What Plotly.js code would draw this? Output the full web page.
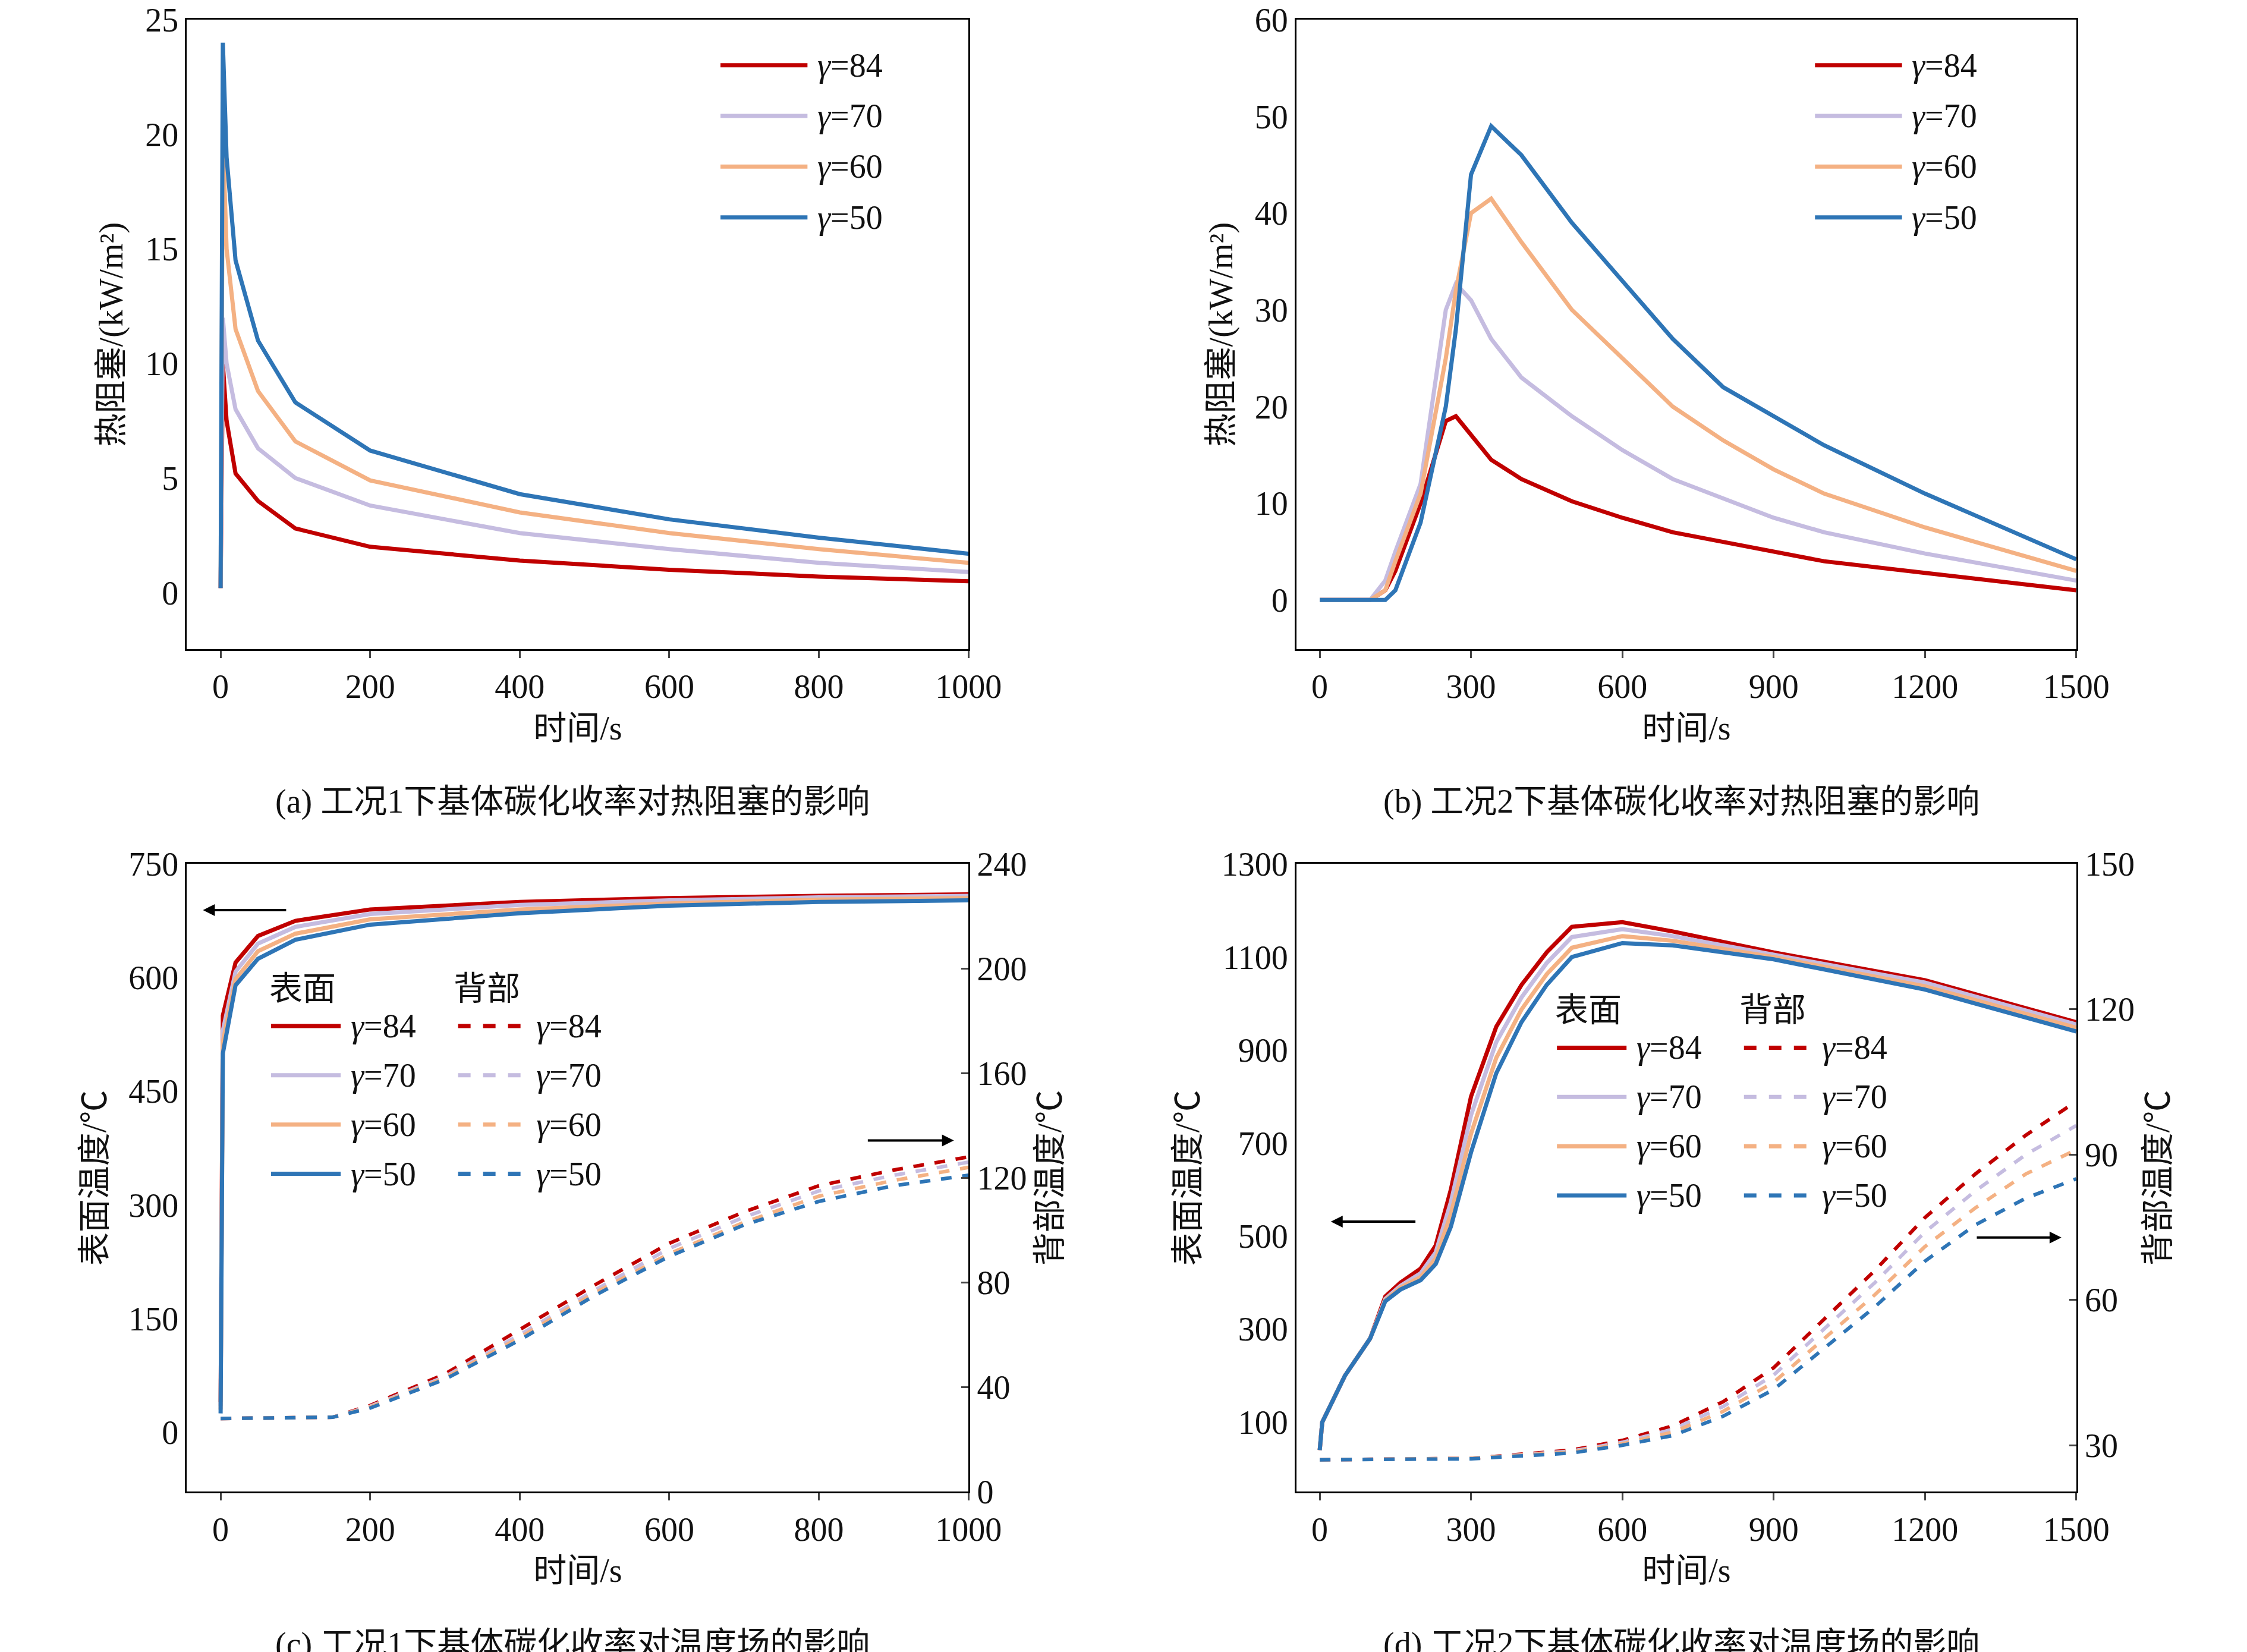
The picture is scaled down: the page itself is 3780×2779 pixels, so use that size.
<!DOCTYPE html>
<html>
<head>
<meta charset="utf-8">
<script src="https://cdn.plot.ly/plotly-3.0.1.min.js"></script>
<style>body{margin:0;background:#fff}#chart{width:3780px;height:2779px}</style>
</head>
<body>
<div id="chart"></div>
<script>
// 系列名称与颜色
const gammas = ["84", "70", "60", "50"];
const colors = ["#c00000", "#c5bce0", "#f4b183", "#2e75b6"];

// (a) 工况1 热阻塞
const tA = [0, 3, 8, 20, 50, 100, 200, 400, 600, 800, 1000];
const qA = [
  [0.2, 10, 7.5, 5.2, 4.0, 2.8, 2.0, 1.4, 1.0, 0.7, 0.5],
  [0.2, 12, 10, 8.0, 6.3, 5.0, 3.8, 2.6, 1.9, 1.3, 0.9],
  [0.2, 20, 15, 11.5, 8.8, 6.6, 4.9, 3.5, 2.6, 1.9, 1.3],
  [0.2, 24, 19, 14.5, 11, 8.3, 6.2, 4.3, 3.2, 2.4, 1.7]
];

// (b) 工况2 热阻塞
const tB = [0, 100, 130, 150, 200, 250, 270, 300, 340, 400, 500, 600, 700, 800, 900, 1000, 1200, 1500];
const qB = [
  [0, 0, 1, 3, 10, 18.5, 19, 17, 14.5, 12.5, 10.2, 8.5, 7, 6, 5, 4, 2.8, 1],
  [0, 0, 2, 5, 12, 30, 32.7, 31, 27, 23, 19, 15.5, 12.5, 10.5, 8.5, 7, 4.8, 2],
  [0, 0, 1, 4, 11, 25, 32, 40, 41.5, 37, 30, 25, 20, 16.5, 13.5, 11, 7.5, 3],
  [0, 0, 0, 1, 8, 20, 28, 44, 49, 46, 39, 33, 27, 22, 19, 16, 11, 4.2]
];

// (c) 工况1 温度场
const tC = [0, 3, 20, 50, 100, 200, 400, 600, 800, 1000];
const surfC = [
  [40, 550, 620, 655, 675, 690, 700, 705, 708, 710],
  [35, 530, 608, 645, 667, 684, 696, 702, 706, 708],
  [30, 515, 598, 635, 658, 677, 690, 698, 703, 705],
  [25, 500, 590, 625, 650, 670, 685, 695, 700, 702]
];
const tCb = [0, 150, 200, 300, 400, 500, 600, 700, 800, 900, 1000];
const backC = [
  [28, 28.5, 33, 45, 62, 79, 95, 107, 117, 123, 128],
  [28, 28.5, 32.7, 44, 60, 77, 93, 105, 115, 121, 126],
  [28, 28.5, 32.4, 43.5, 59, 76, 91, 103, 113, 119, 124],
  [28, 28.5, 32, 43, 58, 75, 90, 102, 111, 117, 121]
];

// (d) 工况2 温度场
const tD = [0, 5, 50, 100, 130, 160, 200, 230, 260, 300, 350, 400, 450, 500, 600, 700, 900, 1200, 1500];
const surfD = [
  [40, 100, 200, 280, 370, 400, 430, 480, 600, 800, 950, 1040, 1110, 1165, 1175, 1155, 1110, 1050, 960],
  [40, 100, 200, 280, 365, 393, 420, 465, 573, 760, 917, 1013, 1087, 1143, 1160, 1145, 1105, 1045, 955],
  [40, 100, 200, 280, 362, 389, 412, 452, 547, 720, 883, 987, 1063, 1120, 1145, 1135, 1100, 1037, 948],
  [40, 100, 200, 280, 360, 385, 405, 440, 520, 680, 850, 960, 1040, 1100, 1130, 1125, 1095, 1030, 940]
];
const tDb = [0, 300, 500, 600, 700, 800, 900, 1000, 1100, 1200, 1300, 1400, 1500];
const backD = [
  [27, 27.3, 29, 31, 34, 39, 46, 56, 66, 77, 86, 94, 101],
  [27, 27.3, 28.8, 30.6, 33.3, 38, 44.5, 54, 63.5, 74, 82.5, 90, 96],
  [27, 27.3, 28.6, 30.3, 32.7, 37, 43, 52, 61, 71, 79, 86, 91],
  [27, 27.2, 28.4, 30, 32, 36, 41.5, 50, 58.5, 68, 75.5, 81, 85]
];

const FONT = "Liberation Serif, Times New Roman, Noto Sans CJK SC, serif";
const nm = g => "<i>γ</i>=" + g;
const traces = [];
gammas.forEach((g, i) => {
  traces.push({x: tA, y: qA[i], xaxis: "x", yaxis: "y", mode: "lines", line: {color: colors[i], width: 7}});
  traces.push({x: tB, y: qB[i], xaxis: "x2", yaxis: "y2", mode: "lines", line: {color: colors[i], width: 7}});
  traces.push({x: tC, y: surfC[i], xaxis: "x3", yaxis: "y3", mode: "lines", line: {color: colors[i], width: 7}});
  traces.push({x: tCb, y: backC[i], xaxis: "x3", yaxis: "y5", mode: "lines", line: {color: colors[i], width: 6, dash: "dash"}});
  traces.push({x: tD, y: surfD[i], xaxis: "x4", yaxis: "y4", mode: "lines", line: {color: colors[i], width: 7}});
  traces.push({x: tDb, y: backD[i], xaxis: "x4", yaxis: "y6", mode: "lines", line: {color: colors[i], width: 6, dash: "dash"}});
});

const tf = {family: FONT, size: 56, color: "#111"};
const ax = (dom, range, dtick, title, extra) => Object.assign({
  domain: dom, range: range, dtick: dtick, tick0: 0, showgrid: false, zeroline: false,
  showline: true, linecolor: "#000", linewidth: 3, mirror: true,
  ticks: "outside", ticklen: 12, tickwidth: 3, tickfont: tf,
  title: {text: title, font: tf, standoff: 20}
}, extra || {});

const colA = [0.0832, 0.431], colB = [0.577, 0.924];
const rowT = [0.607, 0.988], rowB = [0.097, 0.477];

// 手工图例（参照图中的像素位置，1550x1140 缩略坐标）
const W = 1550, H = 1140;
const px = v => v / W, py = v => 1 - v / H;
const shapes = [];
const annotations = [];
const text = (t, x, y, anchor) => annotations.push({text: t, x: px(x), y: py(y), xref: "paper", yref: "paper",
  xanchor: anchor || "left", yanchor: "middle", showarrow: false, font: tf});
const swatch = (x0, x1, y, color, dash) => shapes.push({type: "line", xref: "paper", yref: "paper",
  x0: px(x0), x1: px(x1), y0: py(y), y1: py(y), line: {color: color, width: 7, dash: dash || "solid"}});

[[497, 45], [1252, 45]].forEach(([x, y0]) => {
  gammas.forEach((g, i) => {
    const y = y0 + i * 35;
    swatch(x, x + 60, y, colors[i]);
    text(nm(g), x + 66, y);
  });
});
[[185, 682], [1072, 697]].forEach(([x, y0]) => {
  text("表面", x, y0);
  text("背部", x + 127, y0);
  gammas.forEach((g, i) => {
    const y = y0 + 26 + i * 34;
    swatch(x + 2, x + 50, y, colors[i]);
    text(nm(g), x + 56, y);
    swatch(x + 131, x + 178, y, colors[i], "dash");
    text(nm(g), x + 184, y);
  });
});

const cap = (t, x, y) => annotations.push({text: t, x: px(x), y: py(y), xref: "paper", yref: "paper",
  xanchor: "center", yanchor: "middle", showarrow: false, font: tf});
cap("(a) 工况1下基体碳化收率对热阻塞的影响", 395, 553);
cap("(b) 工况2下基体碳化收率对热阻塞的影响", 1160, 553);
cap("(c) 工况1下基体碳化收率对温度场的影响", 395, 1135);
cap("(d) 工况2下基体碳化收率对温度场的影响", 1160, 1135);

const arrow = (x, y, x0) => annotations.push({x: px(x), y: py(y), ax: px(x0), ay: py(y), xref: "paper", yref: "paper",
  axref: "paper", ayref: "paper", text: "", showarrow: true, arrowhead: 2, arrowsize: 1, arrowwidth: 4, arrowcolor: "#000"});
arrow(140, 628, 198);
arrow(658, 787, 598);
arrow(918, 843, 977);
arrow(1422, 854, 1363);

const layout = {
  width: 3780, height: 2779, paper_bgcolor: "#fff", plot_bgcolor: "#fff",
  margin: {l: 0, r: 0, t: 0, b: 0}, font: {family: FONT}, showlegend: false,
  xaxis: ax(colA, [-45, 1000], 200, "时间/s", {anchor: "y"}),
  yaxis: ax(rowT, [-2.47, 25], 5, "热阻塞/(kW/m²)", {anchor: "x", ticks: ""}),
  xaxis2: ax(colB, [-46, 1500], 300, "时间/s", {anchor: "y2"}),
  yaxis2: ax(rowT, [-5.1, 60], 10, "热阻塞/(kW/m²)", {anchor: "x2", ticks: ""}),
  xaxis3: ax(colA, [-45, 1000], 200, "时间/s", {anchor: "y3"}),
  yaxis3: ax(rowB, [-78.4, 750], 150, "表面温度/℃", {anchor: "x3", ticks: "", mirror: false}),
  yaxis5: ax(rowB, [0, 240], 40, "背部温度/℃", {anchor: "x3", overlaying: "y3", side: "right", ticks: "inside", mirror: false}),
  xaxis4: ax(colB, [-46, 1500], 300, "时间/s", {anchor: "y4"}),
  yaxis4: ax(rowB, [-49.6, 1300], 200, "表面温度/℃", {anchor: "x4", tick0: 100, ticks: "", mirror: false}),
  yaxis6: ax(rowB, [20.4, 150], 30, "背部温度/℃", {anchor: "x4", overlaying: "y4", side: "right", ticks: "inside", mirror: false}),
  shapes: shapes,
  annotations: annotations
};

Plotly.newPlot("chart", traces, layout, {staticPlot: true});
</script>
</body>
</html>
